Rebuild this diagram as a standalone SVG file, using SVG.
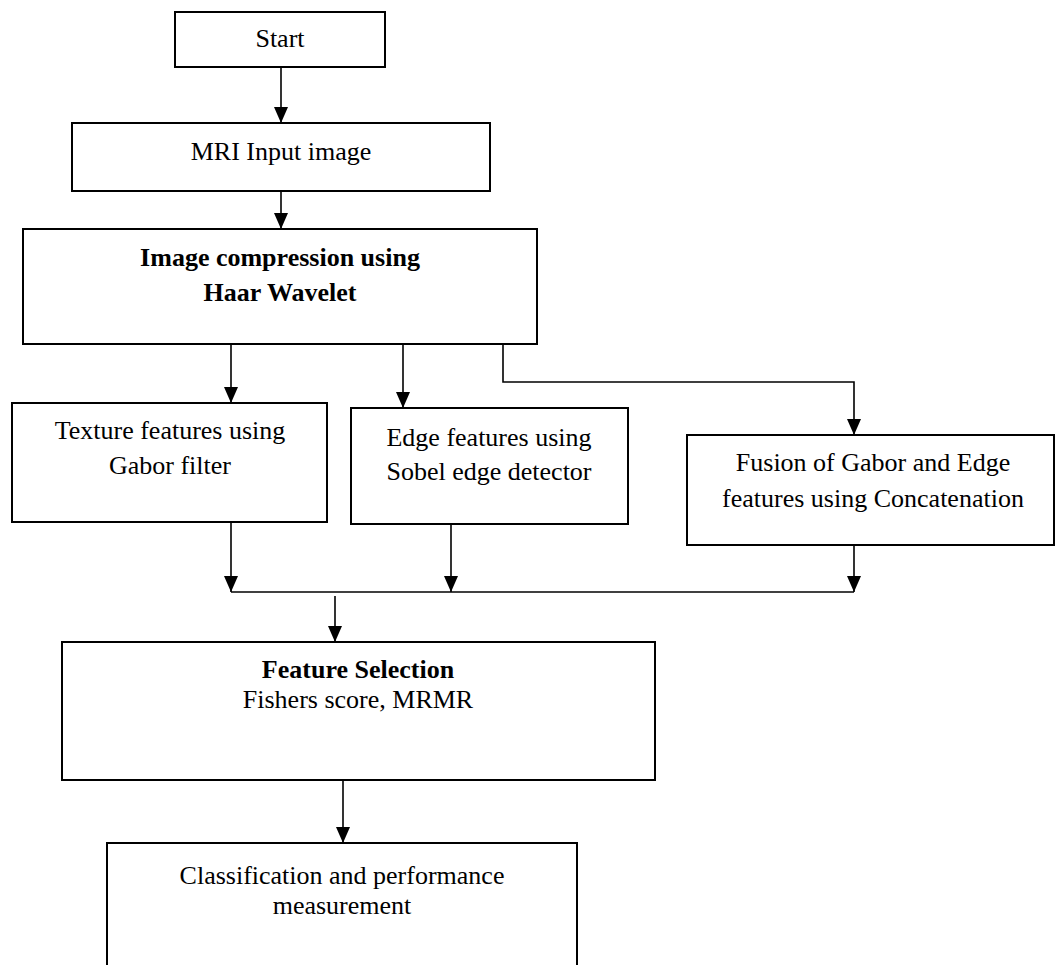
<svg xmlns="http://www.w3.org/2000/svg" width="1056" height="965" viewBox="0 0 1056 965">
<style>
.box{fill:#fff;stroke:#000;stroke-width:2}
.t{font-family:"Liberation Serif","Times New Roman",serif;font-size:26px;fill:#000;text-anchor:middle}
.b{font-weight:bold}
.c{fill:none;stroke:#000;stroke-width:1.6}
</style>
<defs>
<marker id="ah" markerUnits="userSpaceOnUse" markerWidth="16" markerHeight="16" viewBox="0 0 16 16" refX="16" refY="8" orient="auto">
<path d="M0,1 L16,8 L0,15 Z" fill="#000"/>
</marker>
</defs>
<rect width="1056" height="965" fill="#fff"/>
<g id="connectors">
<line class="c" x1="281" y1="67" x2="281" y2="123" marker-end="url(#ah)"/>
<line class="c" x1="281" y1="191" x2="281" y2="229" marker-end="url(#ah)"/>
<line class="c" x1="231" y1="344" x2="231" y2="403" marker-end="url(#ah)"/>
<line class="c" x1="403" y1="342" x2="403" y2="408" marker-end="url(#ah)"/>
<path class="c" d="M503,344 V382 H854 V435" marker-end="url(#ah)"/>
<line class="c" x1="231" y1="522" x2="231" y2="592" marker-end="url(#ah)"/>
<line class="c" x1="451" y1="524" x2="451" y2="592" marker-end="url(#ah)"/>
<line class="c" x1="854" y1="545" x2="854" y2="592" marker-end="url(#ah)"/>
<line class="c" x1="231" y1="592" x2="854" y2="592"/>
<line class="c" x1="335" y1="596" x2="335" y2="642" marker-end="url(#ah)"/>
<line class="c" x1="343" y1="780" x2="343" y2="843" marker-end="url(#ah)"/>
</g>
<g id="start">
<rect class="box" x="175" y="12" width="210" height="55"/>
<text class="t" x="280" y="47">Start</text>
</g>
<g id="mri">
<rect class="box" x="72" y="123" width="418" height="68"/>
<text class="t" x="281" y="160">MRI Input image</text>
</g>
<g id="haar">
<rect class="box" x="23" y="229" width="514" height="115"/>
<text class="t b" x="280" y="266">Image compression using</text>
<text class="t b" x="280" y="301">Haar Wavelet</text>
</g>
<g id="texture">
<rect class="box" x="12" y="403" width="315" height="119"/>
<text class="t" x="170" y="439">Texture features using</text>
<text class="t" x="170" y="474">Gabor filter</text>
</g>
<g id="edge">
<rect class="box" x="351" y="408" width="277" height="116"/>
<text class="t" x="489" y="446">Edge features using</text>
<text class="t" x="489" y="480">Sobel edge detector</text>
</g>
<g id="fusion">
<rect class="box" x="687" y="435" width="367" height="110"/>
<text class="t" x="873" y="471">Fusion of Gabor and Edge</text>
<text class="t" x="873" y="507">features using Concatenation</text>
</g>
<g id="feature">
<rect class="box" x="62" y="642" width="593" height="138"/>
<text class="t b" x="358" y="678">Feature Selection</text>
<text class="t" x="358" y="708">Fishers score, MRMR</text>
</g>
<g id="classification">
<rect class="box" x="107" y="843" width="470" height="140"/>
<text class="t" x="342" y="884">Classification and performance</text>
<text class="t" x="342" y="914">measurement</text>
</g>
</svg>
